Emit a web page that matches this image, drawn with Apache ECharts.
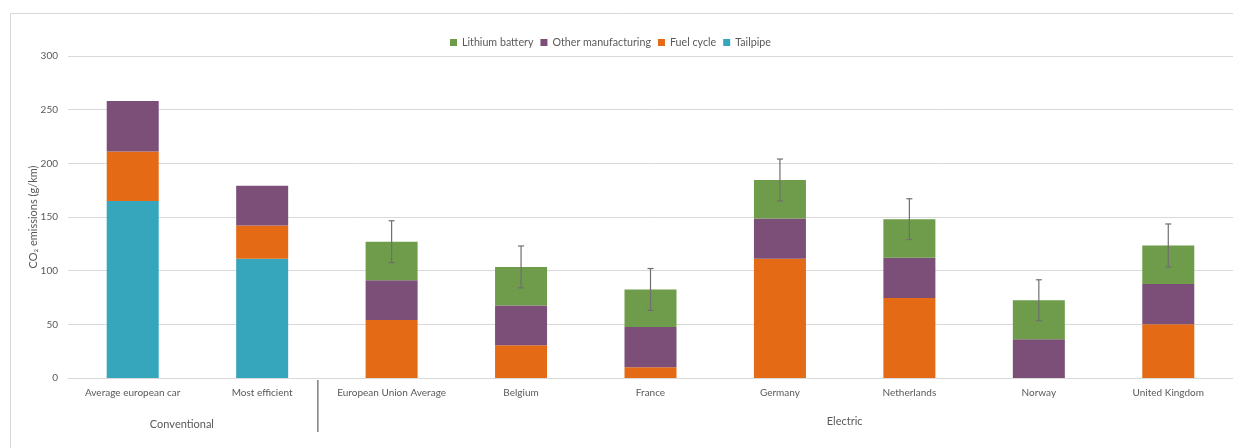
<!DOCTYPE html>
<html>
<head>
<meta charset="utf-8">
<script src="https://cdn.jsdelivr.net/npm/echarts@6/dist/echarts.min.js"></script>
<style>
html,body{margin:0;padding:0;background:#fff;}
#chart{width:1233px;height:448px;}
</style>
</head>
<body>
<div id="chart"></div>
<script>
// ---- data ----
var categories = ['Average european car','Most efficient','European Union Average','Belgium','France','Germany','Netherlands','Norway','United Kingdom'];
var groupLabels = ['Conventional','Electric'];
var tailpipe      = [165, 111, 0, 0, 0, 0, 0, 0, 0];
var fuelCycle     = [46, 31, 54, 30.5, 10, 111, 74.5, 0, 50];
var otherManuf    = [47, 37, 37, 37, 37.5, 37.5, 37.5, 36, 37.5];
var lithiumBatt   = [0, 0, 36, 36, 35, 36, 36, 36.5, 36];
var errorPlusMinus= [null, null, 19.5, 19.5, 19.5, 19.5, 19, 19, 20];
var yTicks = [0, 50, 100, 150, 200, 250, 300];

var totals = categories.map(function(c,i){ return tailpipe[i]+fuelCycle[i]+otherManuf[i]+lithiumBatt[i]; });
var errData = categories.map(function(c,i){
  return errorPlusMinus[i]==null ? [i, null, null] : [i, totals[i]-errorPlusMinus[i], totals[i]+errorPlusMinus[i]];
});

var FONT = 'Lato';
var TXT = '#595959';
var chart = echarts.init(document.getElementById('chart'), null, {renderer:'canvas'});

function barSeries(name, data, color){
  return {
    name: name, type: 'bar', stack: 'total', data: data.map(function(v){return v===0?null:v;}),
    barWidth: 52, itemStyle: {color: color}, emphasis:{disabled:true}
  };
}

var option = {
  animation: false,
  textStyle: {fontFamily: FONT},
  legend: {
    top: 32, left: 445,
    data: ['Lithium battery','Other manufacturing','Fuel cycle','Tailpipe'],
    icon: 'rect', itemWidth: 7, itemHeight: 7, itemGap: 7,
    textStyle: {fontFamily: FONT, fontSize: 10.7, color: TXT}
  },
  grid: {left: 68, right: 0, top: 56, bottom: 70, containLabel: false},
  xAxis: {
    type: 'category', data: categories,
    axisLine: {lineStyle: {color: '#d9d9d9'}},
    axisTick: {show: false},
    axisLabel: {fontFamily: FONT, fontSize: 10, color: TXT, margin: 10, interval: 0}
  },
  yAxis: {
    type: 'value', min: 0, max: 300, interval: 50,
    name: 'CO\u2082 emissions (g/km)', nameLocation: 'middle', nameGap: 29,
    nameMoveOverlap: false,
    nameTextStyle: {fontFamily: FONT, fontSize: 11, color: TXT},
    axisLine: {show: false}, axisTick: {show: false},
    axisLabel: {fontFamily: FONT, fontSize: 10, color: TXT, margin: 10,
      formatter: function(v){ return yTicks.indexOf(v)>=0 ? String(v) : ''; }},
    splitLine: {lineStyle: {color: '#d9d9d9'}}
  },
  series: [
    barSeries('Tailpipe', tailpipe, '#36A6BD'),
    barSeries('Fuel cycle', fuelCycle, '#E46A16'),
    barSeries('Other manufacturing', otherManuf, '#7B4F78'),
    barSeries('Lithium battery', lithiumBatt, '#6E9C4A'),
    {
      type: 'custom', name: 'error', data: errData, z: 10, silent: true,
      encode: {x: 0, y: [1, 2]},
      renderItem: function(params, api){
        var lo = api.value(1), hi = api.value(2);
        if (lo == null || hi == null || isNaN(lo)) return null;
        var i = api.value(0);
        var p1 = api.coord([i, hi]), p2 = api.coord([i, lo]);
        var cap = 3;
        var st = {stroke: '#6f6f6f', lineWidth: 1.2};
        return {type: 'group', children: [
          {type:'line', shape:{x1:p1[0],y1:p1[1],x2:p2[0],y2:p2[1]}, style: st},
          {type:'line', shape:{x1:p1[0]-cap,y1:p1[1],x2:p1[0]+cap,y2:p1[1]}, style: st},
          {type:'line', shape:{x1:p2[0]-cap,y1:p2[1],x2:p2[0]+cap,y2:p2[1]}, style: st}
        ]};
      }
    }
  ]
};
chart.setOption(option);

// group labels, separator and chart border
var x0 = chart.convertToPixel({xAxisIndex:0}, 0);
var x1 = chart.convertToPixel({xAxisIndex:0}, 1);
var band = x1 - x0;
var yBase = chart.convertToPixel({yAxisIndex:0}, 0);
chart.setOption({
  graphic: [
    {type:'rect', shape:{x:10.5, y:13.5, width:1240, height:460}, style:{fill:'none', stroke:'#d9d9d9', lineWidth:1}, silent:true, z:-1},
    {type:'line', shape:{x1: x1 + band*0.43, y1: yBase+2, x2: x1 + band*0.43, y2: yBase+54}, style:{stroke:'#7f7f7f', lineWidth:1.5}},
    {type:'text', x: x0 + band*0.38, y: yBase+46, style:{text: groupLabels[0], font:'11px '+FONT, fill: TXT, textAlign:'center', textVerticalAlign:'middle'}},
    {type:'text', x: x0 + band*5.5, y: yBase+43, style:{text: groupLabels[1], font:'11px '+FONT, fill: TXT, textAlign:'center', textVerticalAlign:'middle'}}
  ]
});
</script>
</body>
</html>
